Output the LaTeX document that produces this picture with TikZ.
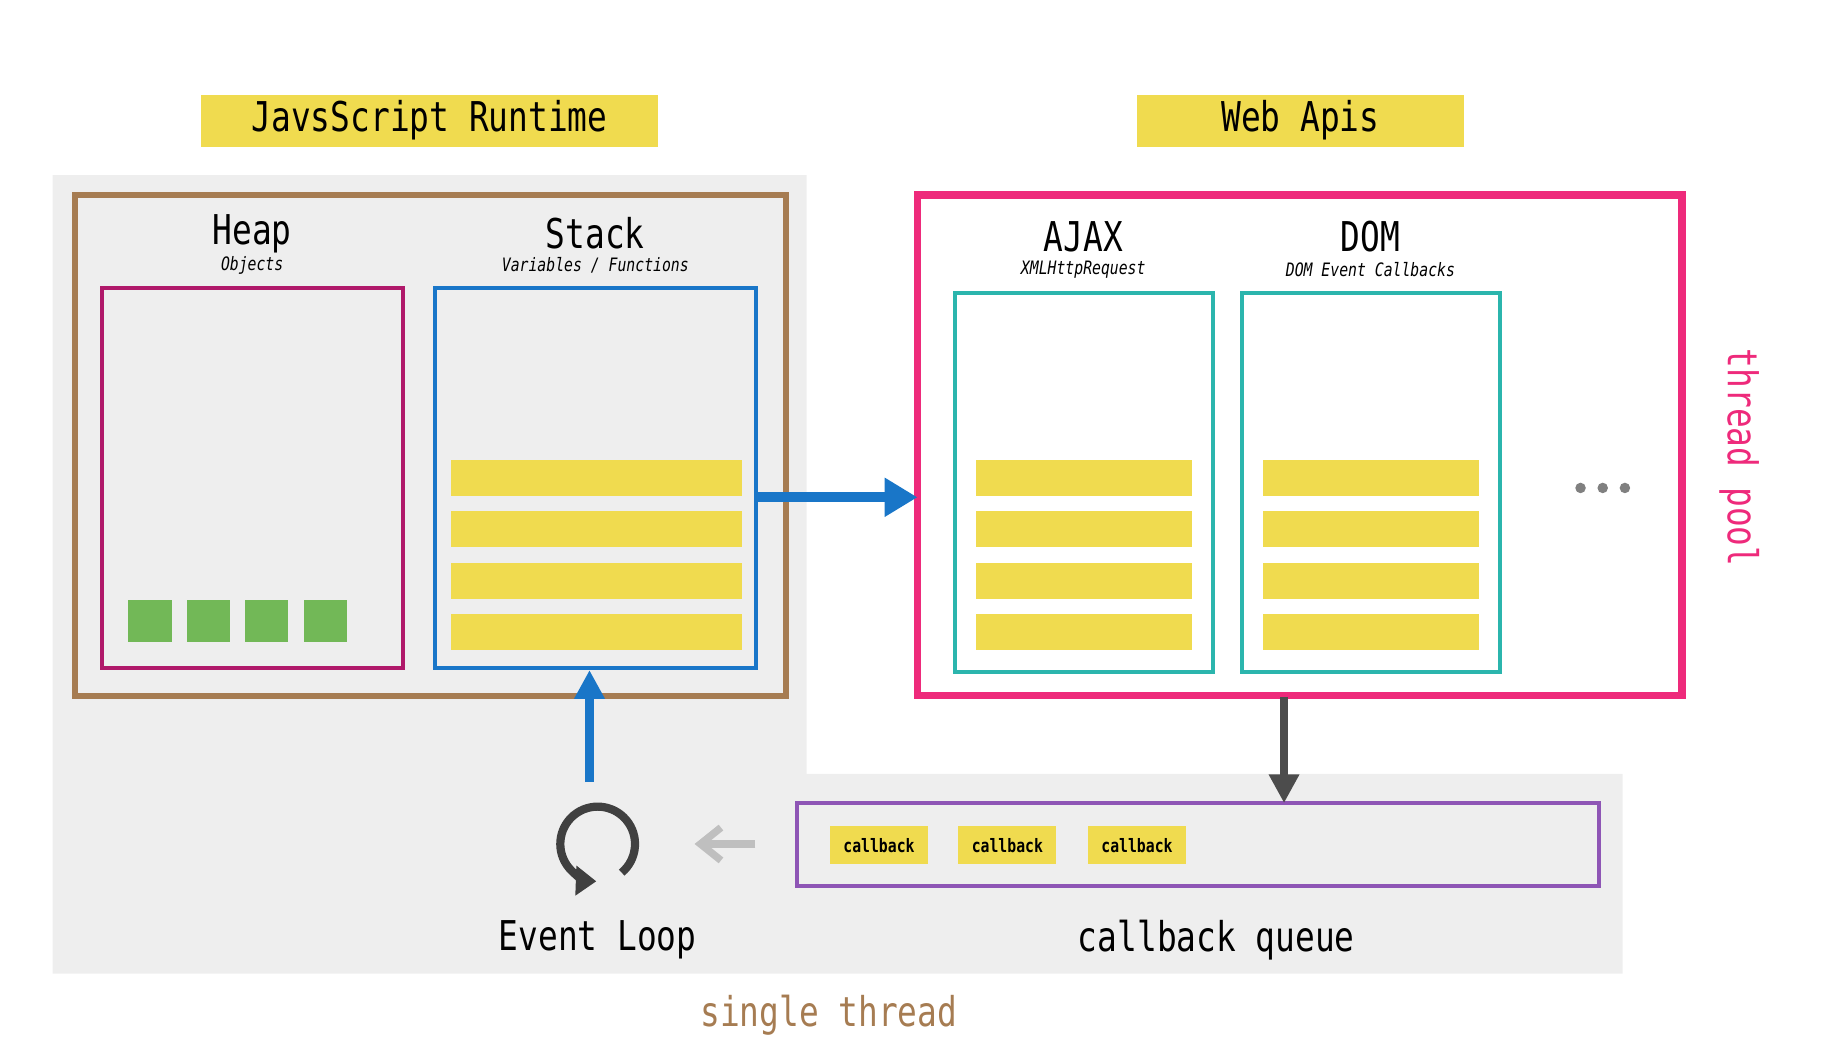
\documentclass[tikz,border=0pt]{standalone}
\usepackage{fontspec}
\setmainfont{DejaVu Sans Mono}[FakeStretch=0.8]
\usetikzlibrary{arrows.meta}
\definecolor{ttl}{HTML}{F0DB4F}
\definecolor{bg}{HTML}{EEEEEE}
\definecolor{brn}{HTML}{A67C52}
\definecolor{mag}{HTML}{B0186A}
\definecolor{blu}{HTML}{1976C8}
\definecolor{pnk}{HTML}{EE2A7B}
\definecolor{tea}{HTML}{2BB5AD}
\definecolor{grn}{HTML}{72B857}
\definecolor{pur}{HTML}{8E55B5}
\tikzset{
  bar/.style={fill=ttl,draw=none},
  head/.style={font=\fontsize{10}{12}\selectfont},
  sub/.style={font=\fontsize{4.5}{5}\itshape\selectfont},
  tag/.style={fill=ttl,minimum width=0.84cm,minimum height=0.32cm,inner sep=0,font=\fontsize{4.5}{5}\selectfont\bfseries}
}
\begin{document}
\begin{tikzpicture}[x=0.01cm,y=-0.01cm]
\useasboundingbox (0,0) rectangle (1560,893);
% background
\fill[bg] (45,150) -- (691,150) -- (691,663) -- (1390,663) -- (1390,834) -- (45,834) -- cycle;
% titles
\fill[ttl] (172,81) rectangle (564,126);
\node[head] (jsrt) at (368,103) {JavsScript Runtime};
\fill[ttl] (974,81) rectangle (1254,126);
\node[head] (wapi) at (1114,103) {Web Apis};

% runtime
\draw[brn,line width=1.5pt] (64,167) rectangle (673,596);
\node[head] (heapt) at (216,200) {Heap};
\node[sub] (heaps) at (216,227) {Objects};
\draw[mag,line width=1pt] (87,247) rectangle (345,572);
\foreach \x in {110,160,210,260}
  \fill[grn] (\x,514) rectangle ++(37,36);
\node[head] (stackt) at (510,200) {Stack};
\node[sub] (stacks) at (510,227) {Variables / Functions};
\draw[blu,line width=1pt] (373,247) rectangle (648,572);
\foreach \y in {394,438,482,526}
  \fill[bar] (386,\y) rectangle (636,\y+31);
\coordinate (stackR) at (648,426);
\coordinate (stackB) at (505,574);

% web apis
\draw[pnk,line width=1.8pt] (786,167) rectangle (1441,596);
\coordinate (apiL) at (786,426);
\coordinate (apiB) at (1100,597);
\node[head] (ajaxt) at (928,203) {AJAX};
\node[sub] (ajaxs) at (928,231) {XMLHttpRequest};
\draw[tea,line width=1pt] (818,251) rectangle (1039,576);
\node[head] (domt) at (1174,203) {DOM};
\node[sub] (doms) at (1174,231) {DOM Event Callbacks};
\draw[tea,line width=1pt] (1064,251) rectangle (1285,576);
\foreach \y in {394,438,482,526} {
  \fill[bar] (836,\y) rectangle (1021,\y+31);
  \fill[bar] (1082,\y) rectangle (1267,\y+31);
}
\foreach \x in {1354,1373,1392}
  \fill[gray] (\x,418) circle (4.5);
\node[pnk,head,rotate=-90] (tpool) at (1490,392) {thread pool};

% queue
\draw[pur,line width=1pt] (683,688) rectangle (1370,759);
\coordinate (queueT) at (1100,688);
\coordinate (queueL) at (647,723);
\node[tag] (cb1) at (753,724) {callback};
\node[tag] (cb2) at (863,724) {callback};
\node[tag] (cb3) at (974,724) {callback};
\node[head] (cbq) at (1042,805) {callback queue};

% event loop
\coordinate (loop) at (512,723);
\draw[black!75,line width=2pt,-{Triangle[length=5pt,width=7pt]}] (loop) ++(50:32) arc[start angle=50,end angle=-268,radius=32];
\coordinate (loopL) at (595,723);
\coordinate (loopT) at (505,670);
\node[head] (evl) at (512,805) {Event Loop};
\node[head,brn] (sth) at (710,870) {single thread};

% connectors
\draw[blu,line width=2.5pt,-{Triangle[length=8pt,width=9pt]}] (stackR) -- (apiL);
\draw[black!70,line width=1.8pt,-{Triangle[length=7pt,width=7pt]}] (apiB) -- (queueT);
\draw[black!25,line width=1.8pt,-{Straight Barb[length=5pt,width=8pt]}] (queueL) -- (loopL);
\draw[blu,line width=2pt,-{Triangle[length=7pt,width=7pt]}] (loopT) -- (stackB);
\end{tikzpicture}
\end{document}
